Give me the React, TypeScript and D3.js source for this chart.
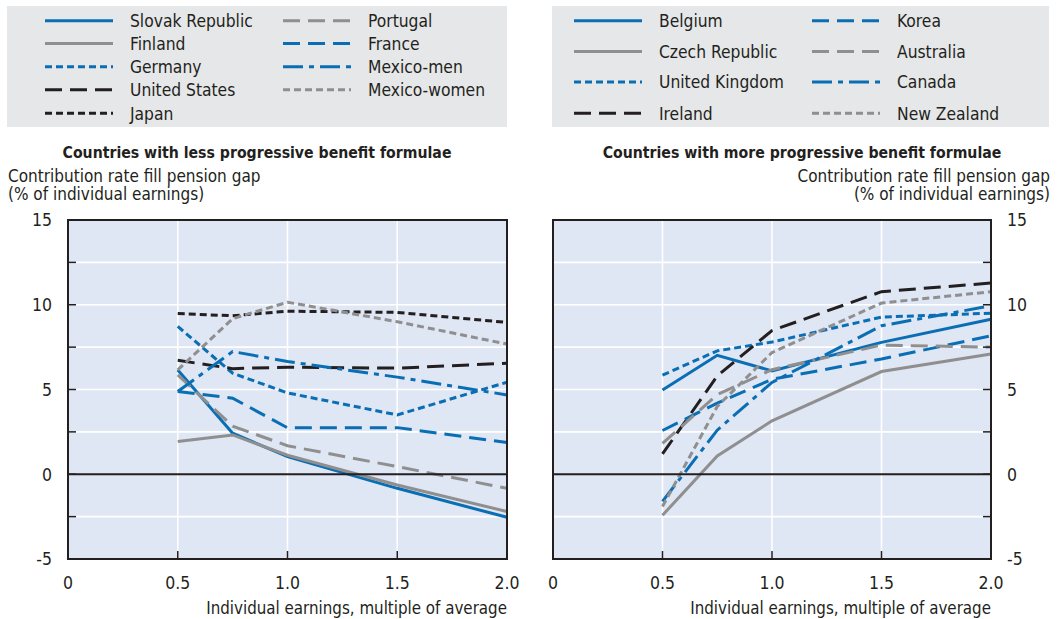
import React from "react";
import * as d3 from "d3";

const xValues = [0.5, 0.75, 1.0, 1.5, 2.0];

const leftNames = ["Slovak Republic", "Finland", "Germany", "United States", "Japan", "Portugal", "France", "Mexico-men", "Mexico-women"];
const leftStyles = ["solidBlue", "solidGray", "dotBlue", "dashBlack", "dotBlack", "dashGray", "dashBlue", "dashdotBlue", "dotGray"];
const slovak = [6.15, 2.42, 1.04, -0.83, -2.54];
const finland = [1.93, 2.32, 1.12, -0.63, -2.2];
const germany = [8.72, 5.96, 4.8, 3.5, 5.43];
const unitedStates = [6.72, 6.23, 6.32, 6.26, 6.55];
const japan = [9.48, 9.35, 9.62, 9.55, 8.96];
const portugal = [5.86, 2.84, 1.68, 0.45, -0.83];
const france = [4.88, 4.49, 2.74, 2.75, 1.87];
const mexicoMen = [4.88, 7.24, 6.65, 5.73, 4.68];
const mexicoWomen = [6.16, 9.18, 10.15, 9.0, 7.68];
const leftValues = [slovak, finland, germany, unitedStates, japan, portugal, france, mexicoMen, mexicoWomen];

const rightNames = ["Belgium", "Czech Republic", "United Kingdom", "Ireland", "Korea", "Australia", "Canada", "New Zealand"];
const rightStyles = ["solidBlue", "solidGray", "dotBlue", "dashBlack", "dashBlue", "dashGray", "dashdotBlue", "dotGray"];
const belgium = [4.97, 7.02, 6.1, 7.78, 9.15];
const czech = [-2.42, 1.08, 3.15, 6.06, 7.09];
const unitedKingdom = [5.85, 7.28, 7.8, 9.27, 9.5];
const ireland = [1.2, 5.8, 8.48, 10.77, 11.28];
const korea = [2.58, 4.2, 5.6, 6.8, 8.17];
const australia = [1.82, 4.7, 6.17, 7.62, 7.5];
const canada = [-1.6, 2.6, 5.42, 8.76, 9.94];
const newZealand = [-1.9, 4.0, 7.18, 10.1, 10.77];
const rightValues = [belgium, czech, unitedKingdom, ireland, korea, australia, canada, newZealand];

const xTicks = [0, 0.5, 1.0, 1.5, 2.0];
const xTickLabels = ["0", "0.5", "1.0", "1.5", "2.0"];
const yTicks = [-5, 0, 5, 10, 15];
const yGrid = [-2.5, 2.5, 5, 7.5, 10, 12.5];
const yMinor = [-2.5, 0, 2.5, 5, 7.5, 10, 12.5];
const xGrid = [0.5, 1.0, 1.5];

const BLUE = "#0a6eb4";
const GRAY = "#8f8f8f";
const BLACK = "#231f20";
const PLOT_BG = "#dfe6f4";
const LEGEND_BG = "#e6e7e8";
const FONT = "'DejaVu Sans Condensed', 'DejaVu Sans', sans-serif";

const STYLE: Record<string, { color: string; dash: string }> = {
  solidBlue: { color: BLUE, dash: "none" },
  solidGray: { color: GRAY, dash: "none" },
  dotBlue: { color: BLUE, dash: "7,4" },
  dashBlack: { color: BLACK, dash: "17,8" },
  dotBlack: { color: BLACK, dash: "7,4" },
  dashGray: { color: GRAY, dash: "17,8" },
  dashBlue: { color: BLUE, dash: "17,8" },
  dashdotBlue: { color: BLUE, dash: "20,6,5,6" },
  dotGray: { color: GRAY, dash: "7,4" },
};

function Panel({ x0, x1, side, values, styles }: { x0: number; x1: number; side: "left" | "right"; values: number[][]; styles: string[] }) {
  const x = d3.scaleLinear().domain([0, 2]).range([x0, x1]);
  const y = d3.scaleLinear().domain([-5, 15]).range([559, 220]);
  const line = d3
    .line<[number, number]>()
    .x((d) => x(d[0]))
    .y((d) => y(d[1]));
  const axisX = side === "left" ? x0 : x1;
  const tickDir = side === "left" ? 1 : -1;
  return (
    <g>
      <rect x={x0} y={y(15)} width={x1 - x0} height={y(-5) - y(15)} fill={PLOT_BG} />
      {yGrid.map((v) => (
        <line key={"gy" + v} x1={x0} x2={x1} y1={y(v)} y2={y(v)} stroke="#fff" strokeWidth={1.6} />
      ))}
      {xGrid.map((v) => (
        <line key={"gx" + v} x1={x(v)} x2={x(v)} y1={y(15)} y2={y(-5)} stroke="#fff" strokeWidth={1.6} />
      ))}
      {values.map((vals, i) => {
        const st = STYLE[styles[i]];
        const pts = xValues.map((xv, j) => [xv, vals[j]] as [number, number]);
        return (
          <path
            key={"s" + i}
            d={line(pts) || ""}
            fill="none"
            stroke={st.color}
            strokeWidth={3}
            strokeDasharray={st.dash}
            strokeLinejoin="miter"
          />
        );
      })}
      <line x1={x0} x2={x1} y1={y(0)} y2={y(0)} stroke={BLACK} strokeWidth={2} />
      <rect x={x0} y={y(15)} width={x1 - x0} height={y(-5) - y(15)} fill="none" stroke={BLACK} strokeWidth={2} />
      {yMinor.map((v) => (
        <line key={"ty" + v} x1={axisX} x2={axisX + tickDir * 8} y1={y(v)} y2={y(v)} stroke={BLACK} strokeWidth={1.5} />
      ))}
      {xGrid.map((v) => (
        <line key={"tx" + v} x1={x(v)} x2={x(v)} y1={y(-5)} y2={y(-5) - 8} stroke={BLACK} strokeWidth={1.5} />
      ))}
      {yTicks.map((v) => (
        <text
          key={"ly" + v}
          x={side === "left" ? x0 - 16 : x1 + 16}
          y={y(v)}
          dy="0.36em"
          textAnchor={side === "left" ? "end" : "start"}
          fontSize={17.5}
          fill={BLACK}
        >
          {v}
        </text>
      ))}
      {xTicks.map((v, i) => (
        <text key={"lx" + v} x={x(v)} y={589} textAnchor="middle" fontSize={17.5} fill={BLACK}>
          {xTickLabels[i]}
        </text>
      ))}
      <text x={x1} y={614} textAnchor="end" fontSize={16.8} fill={BLACK}>
        Individual earnings, multiple of average
      </text>
    </g>
  );
}

function Legend({ bx, bw, rows, names, styles, col1, col2, rowY }: { bx: number; bw: number; rows: number; names: string[]; styles: string[]; col1: number; col2: number; rowY: number[] }) {
  return (
    <g>
      <rect x={bx} y={6} width={bw} height={121} fill={LEGEND_BG} />
      {names.map((n, i) => {
        const col = i < rows ? 0 : 1;
        const r = i < rows ? i : i - rows;
        const sx = col === 0 ? col1 : col2;
        const st = STYLE[styles[i]];
        const yy = rowY[r];
        return (
          <g key={n}>
            <line x1={sx} x2={sx + 68} y1={yy} y2={yy} stroke={st.color} strokeWidth={3} strokeDasharray={st.dash} />
            <text x={sx + 85} y={yy} dy="0.36em" fontSize={17.3} fill={BLACK}>
              {n}
            </text>
          </g>
        );
      })}
    </g>
  );
}

export default function App() {
  return (
    <div style={{ position: "absolute", left: 0, top: 0 }}>
      <svg width={1057} height={619} style={{ display: "block", fontFamily: FONT }}>
        <rect width={1057} height={619} fill="#fff" />
        <Legend bx={7} bw={500} rows={5} names={leftNames} styles={leftStyles} col1={45} col2={283} rowY={[20.7, 43.5, 66.7, 89.7, 113.3]} />
        <Legend bx={552} bw={497} rows={4} names={rightNames} styles={rightStyles} col1={574} col2={812} rowY={[20.7, 51.5, 82, 113.3]} />
        <text x={257} y={158} textAnchor="middle" fontSize={15.7} fontWeight="bold" fill={BLACK}>
          Countries with less progressive benefit formulae
        </text>
        <text x={802} y={158} textAnchor="middle" fontSize={15.7} fontWeight="bold" fill={BLACK}>
          Countries with more progressive benefit formulae
        </text>
        <text x={8} y={182} fontSize={17} fill={BLACK}>Contribution rate fill pension gap</text>
        <text x={8} y={200} fontSize={17} fill={BLACK}>(% of individual earnings)</text>
        <text x={1050} y={182} textAnchor="end" fontSize={17} fill={BLACK}>Contribution rate fill pension gap</text>
        <text x={1050} y={200} textAnchor="end" fontSize={17} fill={BLACK}>(% of individual earnings)</text>
        <Panel x0={68} x1={507} side="left" values={leftValues} styles={leftStyles} />
        <Panel x0={553} x1={991} side="right" values={rightValues} styles={rightStyles} />
      </svg>
    </div>
  );
}
